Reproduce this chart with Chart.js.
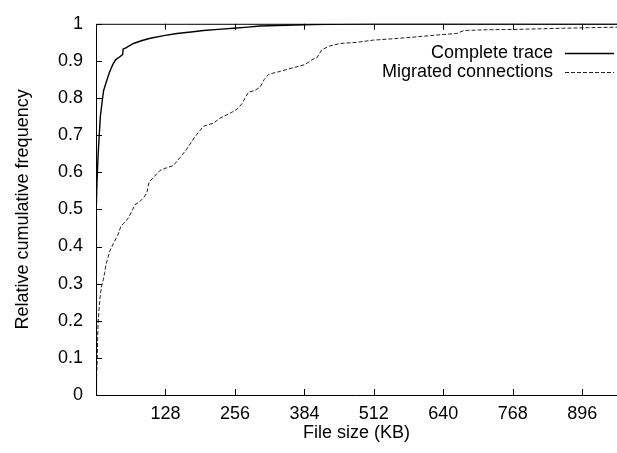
<!DOCTYPE html>
<html>
<head>
<meta charset="utf-8">
<title>File size CDF</title>
<script src="https://cdn.jsdelivr.net/npm/chart.js@4/dist/chart.umd.min.js"></script>
<style>
  html, body { margin: 0; padding: 0; background: #fff; overflow: hidden; }
  #wrap { width: 617px; height: 453px; }
</style>
</head>
<body>
<div id="wrap"><canvas id="cdf" width="617" height="453"></canvas></div>
<script>
// ===== Data =====
const seriesNames = ["Complete trace", "Migrated connections"];

// file size (KB) / cumulative fraction, whole trace
const completeX = [0, 0.3, 0.6, 1, 2, 4, 6, 8, 11.6, 14, 18, 24.5, 30.8, 36, 41, 49, 50, 55, 69, 85, 100, 125, 149, 175, 198, 225, 253, 280, 302, 350, 400, 450, 500, 960];
const completeY = [0, 0.3, 0.45, 0.51, 0.58, 0.65, 0.70, 0.75, 0.794, 0.82, 0.839, 0.868, 0.89, 0.903, 0.908, 0.917, 0.932, 0.935, 0.947, 0.955, 0.961, 0.968, 0.974, 0.978, 0.982, 0.985, 0.988, 0.991, 0.994, 0.996, 0.998, 0.999, 1, 1];

// migrated connections only
const migratedX = [0, 1, 2.4, 3, 4, 6, 8, 10.5, 13.5, 16, 18.4, 22, 26, 32, 40, 46, 50, 55, 60, 66, 72, 80, 88, 93.5, 98, 105, 118, 130, 142.6, 155, 167, 182, 198, 216, 228.7, 247, 260, 269, 281, 292, 302, 310, 318, 340, 364, 385, 400, 407, 416, 430, 450, 480, 511, 550, 591, 630, 665, 678, 720, 776, 860, 960];
const migratedY = [0, 0.05, 0.1, 0.15, 0.197, 0.24, 0.27, 0.294, 0.311, 0.33, 0.351, 0.37, 0.39, 0.408, 0.43, 0.455, 0.461, 0.468, 0.478, 0.495, 0.513, 0.52, 0.532, 0.544, 0.574, 0.585, 0.605, 0.612, 0.618, 0.64, 0.662, 0.695, 0.724, 0.732, 0.746, 0.759, 0.77, 0.785, 0.816, 0.82, 0.829, 0.85, 0.864, 0.872, 0.882, 0.89, 0.905, 0.908, 0.93, 0.94, 0.947, 0.95, 0.956, 0.96, 0.965, 0.97, 0.974, 0.982, 0.984, 0.985, 0.988, 0.991];

const xTickValues = [0, 128, 256, 384, 512, 640, 768, 896];
const yTickValues = [0, 0.1, 0.2, 0.3, 0.4, 0.5, 0.6, 0.7, 0.8, 0.9, 1];

const FONT = "'Liberation Sans', Arial, Helvetica, sans-serif";
const FONT_SIZE = 18;
Chart.defaults.font.family = FONT;
Chart.defaults.font.size = FONT_SIZE;
Chart.defaults.color = "#000";

function toPoints(xs, ys){ return xs.map((x,i)=>({x:x, y:ys[i]})); }

// ===== gnuplot-ish frame, inward ticks and key =====
const framePlugin = {
  id: "frame",
  afterDatasetsDraw(chart){
    const {ctx, chartArea:a, scales} = chart;
    const tl = 6;
    ctx.save();
    ctx.strokeStyle = "#000";
    ctx.lineWidth = 1;
    ctx.setLineDash([]);
    ctx.beginPath();
    ctx.moveTo(a.right, a.top + 0.5); ctx.lineTo(a.left + 0.5, a.top + 0.5);
    ctx.lineTo(a.left + 0.5, a.bottom + 0.5); ctx.lineTo(a.right, a.bottom + 0.5);
    xTickValues.forEach(v=>{
      if(v===0) return;
      const px = Math.round(scales.x.getPixelForValue(v)) + 0.5;
      ctx.moveTo(px, a.bottom); ctx.lineTo(px, a.bottom - tl);
      ctx.moveTo(px, a.top); ctx.lineTo(px, a.top + tl);
    });
    yTickValues.forEach(v=>{
      const py = Math.round(scales.y.getPixelForValue(v)) + 0.5;
      ctx.moveTo(a.left, py); ctx.lineTo(a.left + tl, py);
    });
    ctx.stroke();

    // key, text right-aligned with the line sample to its right
    ctx.font = FONT_SIZE + "px " + FONT;
    ctx.textAlign = "right";
    ctx.textBaseline = "middle";
    ctx.fillStyle = "#000";
    chart.data.datasets.forEach((ds,i)=>{
      const y = 53 + i*19;
      ctx.fillText(ds.label, 553, y);
      ctx.beginPath();
      ctx.strokeStyle = ds.borderColor;
      ctx.lineWidth = ds.borderWidth;
      ctx.setLineDash(ds.borderDash || []);
      ctx.moveTo(565, y + 0.5); ctx.lineTo(614, y + 0.5);
      ctx.stroke();
    });
    ctx.restore();
  }
};

new Chart(document.getElementById("cdf"), {
  type: "line",
  data: {
    datasets: [
      { label: seriesNames[0], data: toPoints(completeX, completeY), borderColor: "#000", borderWidth: 1.4, pointRadius: 0, tension: 0 },
      { label: seriesNames[1], data: toPoints(migratedX, migratedY), borderColor: "#222", borderWidth: 1, borderDash: [4, 2], pointRadius: 0, tension: 0 }
    ]
  },
  options: {
    responsive: false,
    animation: false,
    layout: { padding: { top: 15, right: 0, left: 0, bottom: 0 } },
    plugins: { legend: { display: false }, tooltip: { enabled: false } },
    scales: {
      x: {
        type: "linear",
        min: 0, max: 960,
        afterBuildTicks: s => { s.ticks = xTickValues.map(v=>({value:v})); },
        afterFit: s => { s.height = 58; },
        grid: { display: false, drawTicks: false },
        border: { display: false },
        ticks: { padding: 8, maxRotation: 0, callback: v => v===0 ? "" : String(v) },
        title: { display: true, text: "File size (KB)", padding: { top: 0, bottom: 9 } }
      },
      y: {
        min: 0, max: 1,
        afterBuildTicks: s => { s.ticks = yTickValues.map(v=>({value:v})); },
        afterFit: s => { s.width = 96; },
        grid: { display: false, drawTicks: false },
        border: { display: false },
        ticks: { padding: 13, callback: v => String(Math.round(v*10)/10) },
        title: { display: true, text: "Relative cumulative frequency", padding: { top: 12, bottom: 0 } }
      }
    }
  },
  plugins: [framePlugin]
});
</script>
</body>
</html>
